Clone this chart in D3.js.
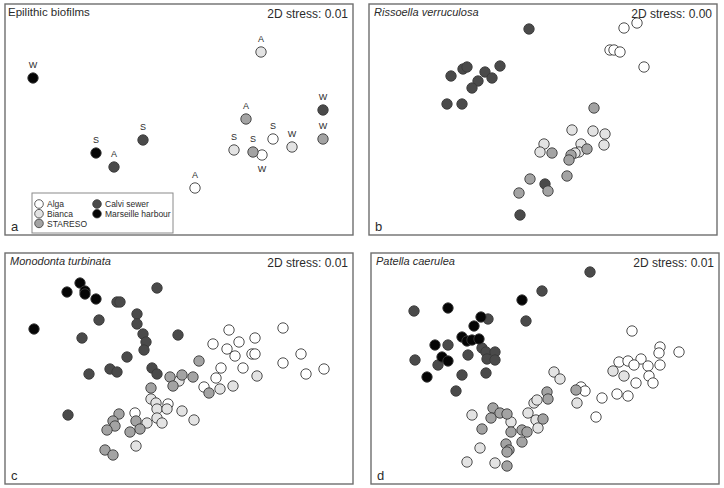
<!DOCTYPE html>
<html>
<head>
<meta charset="utf-8">
<script src="https://cdn.jsdelivr.net/npm/d3@7"></script>
<style>
  body { margin: 0; background: #fff; }
  text { font-family: "Liberation Sans", Arial, sans-serif; fill: #2b2b2b; }
</style>
</head>
<body>
<div id="chart"></div>
<script>
// site codes and legend names
const siteCodes = ["AL", "BI", "ST", "CS", "MH"];
const siteNames = ["Alga", "Bianca", "STARESO", "Calvi sewer", "Marseille harbour"];

const panelTitles = ["Epilithic biofilms", "Rissoella verruculosa", "Monodonta turbinata", "Patella caerulea"];
const panelStress = ["0.01", "0.00", "0.01", "0.01"];
const panelLetters = ["a", "b", "c", "d"];

// MDS coordinates (arbitrary units), [site, x, y, season]
const biofilmPts = [
  ["AL", 1.90, 0.47, "A"], ["AL", 2.68, 0.96, "S"], ["AL", 2.57, 0.80, "W"],
  ["BI", 2.56, 1.83, "A"], ["BI", 2.29, 0.85, "S"], ["BI", 2.87, 0.88, "W"],
  ["CS", 1.09, 0.68, "A"], ["CS", 1.38, 0.95, "S"], ["CS", 3.18, 1.25, "W"],
  ["MH", 0.91, 0.82, "S"], ["MH", 0.28, 1.57, "W"],
  ["ST", 2.41, 1.16, "A"], ["ST", 2.48, 0.83, "S"], ["ST", 3.18, 0.96, "W"]
];

const rissoellaPts = [
  ["AL", 2.55, 2.07], ["AL", 2.68, 2.12], ["AL", 2.41, 1.85], ["AL", 2.45, 1.85], ["AL", 2.51, 1.83], ["AL", 2.75, 1.68],
  ["BI", 2.03, 1.05], ["BI", 2.24, 1.04], ["BI", 2.36, 1.01], ["BI", 2.35, 0.90], ["BI", 1.75, 0.91],
  ["BI", 1.71, 0.83], ["BI", 2.12, 0.91], ["BI", 2.10, 0.83], ["BI", 2.06, 0.82],
  ["CS", 1.60, 2.06], ["CS", 0.82, 1.59], ["CS", 0.94, 1.66], ["CS", 0.98, 1.68], ["CS", 1.16, 1.63],
  ["CS", 1.31, 1.69], ["CS", 1.23, 1.57], ["CS", 1.09, 1.54], ["CS", 1.03, 1.47], ["CS", 0.78, 1.31],
  ["CS", 0.93, 1.31], ["CS", 1.76, 0.51], ["CS", 1.51, 0.20],
  ["ST", 2.25, 1.27], ["ST", 1.83, 0.82], ["ST", 2.18, 0.86], ["ST", 2.02, 0.80], ["ST", 2.00, 0.75],
  ["ST", 1.98, 0.59], ["ST", 1.61, 0.56], ["ST", 1.50, 0.42], ["ST", 1.79, 0.44]
];

const monodontaPts = [
  ["AL", 2.24, 1.54], ["AL", 2.78, 1.56], ["AL", 2.08, 1.40], ["AL", 2.34, 1.42], ["AL", 2.50, 1.46],
  ["AL", 2.22, 1.35], ["AL", 2.30, 1.28], ["AL", 2.47, 1.30], ["AL", 2.50, 1.30], ["AL", 2.16, 1.16],
  ["AL", 2.38, 1.16], ["AL", 2.78, 1.21], ["AL", 2.96, 1.30], ["AL", 3.01, 1.10], ["AL", 3.19, 1.15],
  ["AL", 2.11, 1.06], ["AL", 1.99, 0.97], ["AL", 1.63, 0.80], ["AL", 1.30, 0.71],
  ["BI", 2.52, 1.08], ["BI", 2.15, 0.95], ["BI", 2.28, 0.98], ["BI", 1.77, 0.73], ["BI", 1.89, 0.64],
  ["BI", 1.31, 0.38], ["BI", 1.74, 1.03], ["BI", 1.46, 0.85], ["BI", 1.51, 0.81], ["BI", 1.52, 0.75],
  ["BI", 1.62, 0.75], ["BI", 1.52, 0.66], ["BI", 1.57, 0.61], ["BI", 1.42, 0.61],
  ["CS", 1.52, 1.96], ["CS", 1.12, 1.82], ["CS", 1.15, 1.82], ["CS", 0.94, 1.64], ["CS", 1.32, 1.70],
  ["CS", 1.32, 1.60], ["CS", 0.77, 1.46], ["CS", 1.38, 1.50], ["CS", 1.41, 1.42], ["CS", 1.39, 1.34],
  ["CS", 1.73, 1.49], ["CS", 1.22, 1.27], ["CS", 0.84, 1.10], ["CS", 1.05, 1.15], ["CS", 1.12, 1.12],
  ["CS", 1.47, 1.16], ["CS", 1.52, 1.10], ["CS", 0.63, 0.69],
  ["MH", 0.75, 2.01], ["MH", 0.62, 1.92], ["MH", 0.80, 1.93], ["MH", 0.80, 1.90], ["MH", 0.91, 1.85], ["MH", 0.29, 1.55],
  ["ST", 1.94, 1.23], ["ST", 1.65, 1.07], ["ST", 1.68, 0.98], ["ST", 1.77, 1.09], ["ST", 1.88, 1.07],
  ["ST", 2.04, 0.91], ["ST", 1.46, 0.96], ["ST", 1.14, 0.70], ["ST", 1.08, 0.63], ["ST", 1.10, 0.58],
  ["ST", 1.02, 0.54], ["ST", 1.31, 0.63], ["ST", 1.35, 0.55], ["ST", 1.25, 0.52], ["ST", 1.00, 0.34],
  ["ST", 1.08, 0.29]
];

const patellaPts = [
  ["AL", 2.61, 1.53], ["AL", 2.89, 1.37], ["AL", 2.88, 1.31], ["AL", 3.08, 1.32], ["AL", 2.48, 1.22],
  ["AL", 2.57, 1.23], ["AL", 2.70, 1.25], ["AL", 2.63, 1.19], ["AL", 2.77, 1.18], ["AL", 2.89, 1.19],
  ["AL", 2.78, 1.08], ["AL", 2.82, 1.01], ["AL", 2.65, 1.01], ["AL", 2.46, 0.90], ["AL", 2.57, 0.88],
  ["AL", 2.31, 0.86], ["AL", 2.25, 0.67], ["AL", 2.10, 0.97], ["AL", 2.14, 0.93],
  ["BI", 1.01, 0.69], ["BI", 1.09, 0.36], ["BI", 0.96, 0.22], ["BI", 1.24, 0.21], ["BI", 1.63, 0.81],
  ["BI", 1.66, 0.84], ["BI", 1.57, 0.71], ["BI", 1.40, 0.62], ["BI", 1.65, 0.64], ["BI", 1.67, 0.56],
  ["BI", 2.06, 0.81], ["BI", 1.83, 1.12], ["BI", 1.89, 1.05], ["BI", 2.42, 1.13], ["BI", 2.53, 1.08],
  ["CS", 2.19, 2.12], ["CS", 1.71, 1.93], ["CS", 1.55, 1.63], ["CS", 0.43, 1.73], ["CS", 1.17, 1.65],
  ["CS", 0.77, 1.39], ["CS", 0.44, 1.24], ["CS", 0.67, 1.19], ["CS", 0.97, 1.29], ["CS", 1.11, 1.36],
  ["CS", 1.15, 1.32], ["CS", 1.24, 1.32], ["CS", 1.16, 1.25], ["CS", 1.24, 1.24], ["CS", 0.91, 1.09],
  ["CS", 1.15, 1.11], ["CS", 0.85, 0.93],
  ["MH", 0.77, 1.76], ["MH", 1.51, 1.84], ["MH", 1.10, 1.67], ["MH", 1.03, 1.58], ["MH", 0.91, 1.47],
  ["MH", 0.96, 1.43], ["MH", 1.01, 1.44], ["MH", 1.08, 1.45], ["MH", 0.64, 1.39], ["MH", 0.71, 1.27],
  ["MH", 0.77, 1.23], ["MH", 0.56, 1.07],
  ["ST", 1.76, 0.92], ["ST", 1.77, 0.85], ["ST", 1.22, 0.76], ["ST", 1.29, 0.71], ["ST", 1.36, 0.70],
  ["ST", 1.20, 0.66], ["ST", 1.40, 0.52], ["ST", 1.11, 0.55], ["ST", 1.51, 0.54], ["ST", 1.56, 0.52],
  ["ST", 1.51, 0.42], ["ST", 1.35, 0.40], ["ST", 1.38, 0.34], ["ST", 1.36, 0.32], ["ST", 1.36, 0.18],
  ["ST", 1.72, 0.65], ["ST", 2.05, 0.94]
];

const allPts = [biofilmPts, rissoellaPts, monodontaPts, patellaPts];

// layout
const pw = 348, ph = 231;
const panelPos = [[5, 4], [369, 4], [5, 253], [371, 253]];

const fill = d3.scaleOrdinal().domain(siteCodes)
  .range(["#ffffff", "#e3e3e3", "#a3a3a3", "#4a4a4a", "#050505"]);
const r = 5.2;

const x = d3.scaleLinear().domain([0, 3.48]).range([0, pw]);
const y = d3.scaleLinear().domain([0, 2.31]).range([ph, 0]);

const svg = d3.select("#chart").append("svg")
  .attr("width", 724)
  .attr("height", 488);

svg.append("rect").attr("width", 724).attr("height", 488).attr("fill", "#fff");

for (let p = 0; p < 4; p++) {
  let g = svg.append("g")
    .attr("transform", "translate(" + panelPos[p][0] + "," + panelPos[p][1] + ")");

  g.append("rect")
    .attr("width", pw).attr("height", ph)
    .attr("fill", "none")
    .attr("stroke", "#6e6e6e")
    .attr("stroke-width", 1.4);

  g.append("text")
    .attr("x", p == 0 ? 3 : 5).attr("y", 12)
    .attr("font-size", p == 0 ? "11.5px" : "11px")
    .attr("font-style", p == 0 ? "normal" : "italic")
    .text(panelTitles[p]);

  g.append("text")
    .attr("x", pw - 5).attr("y", 14)
    .attr("text-anchor", "end")
    .attr("font-size", "12px")
    .text("2D stress: " + panelStress[p]);

  g.append("text")
    .attr("x", 6).attr("y", ph - 4)
    .attr("font-size", "13px")
    .text(panelLetters[p]);

  g.selectAll("circle.pt").data(allPts[p]).enter()
    .append("circle")
      .attr("class", "pt")
      .attr("cx", function(d){ return x(d[1]); })
      .attr("cy", function(d){ return y(d[2]); })
      .attr("r", r)
      .attr("fill", function(d){ return fill(d[0]); })
      .attr("stroke", "#3a3a3a")
      .attr("stroke-width", 0.9);

  if (p == 0) {
    // season letters
    g.selectAll("text.season").data(biofilmPts).enter()
      .append("text")
        .attr("class", "season")
        .attr("x", function(d){ return x(d[1]); })
        .attr("y", function(d){
          // the Alga winter label sits under its point
          return (d[0] == "AL" && d[3] == "W") ? y(d[2]) + 17 : y(d[2]) - 10;
        })
        .attr("text-anchor", "middle")
        .attr("font-size", "9px")
        .attr("fill", "#333")
        .text(function(d){ return d[3]; });

    // legend
    let lg = g.append("g").attr("transform", "translate(27,189)");
    lg.append("rect")
      .attr("width", 141).attr("height", 40)
      .attr("fill", "#fff")
      .attr("stroke", "#8a8a8a")
      .attr("stroke-width", 1);
    let items = lg.selectAll("g.item").data(siteCodes).enter()
      .append("g")
        .attr("class", "item")
        .attr("transform", function(d, i){
          let col = i < 3 ? 0 : 1, row = i < 3 ? i : i - 3;
          return "translate(" + (col == 0 ? 7 : 65) + "," + (11 + row * 9.7) + ")";
        });
    items.append("circle")
      .attr("r", 4.3)
      .attr("fill", function(d){ return fill(d); })
      .attr("stroke", "#3a3a3a")
      .attr("stroke-width", 0.8);
    items.append("text")
      .attr("x", 8).attr("y", 3.2)
      .attr("font-size", "8.5px")
      .attr("fill", "#444")
      .text(function(d, i){ return siteNames[i]; });
  }
}
</script>
</body>
</html>
